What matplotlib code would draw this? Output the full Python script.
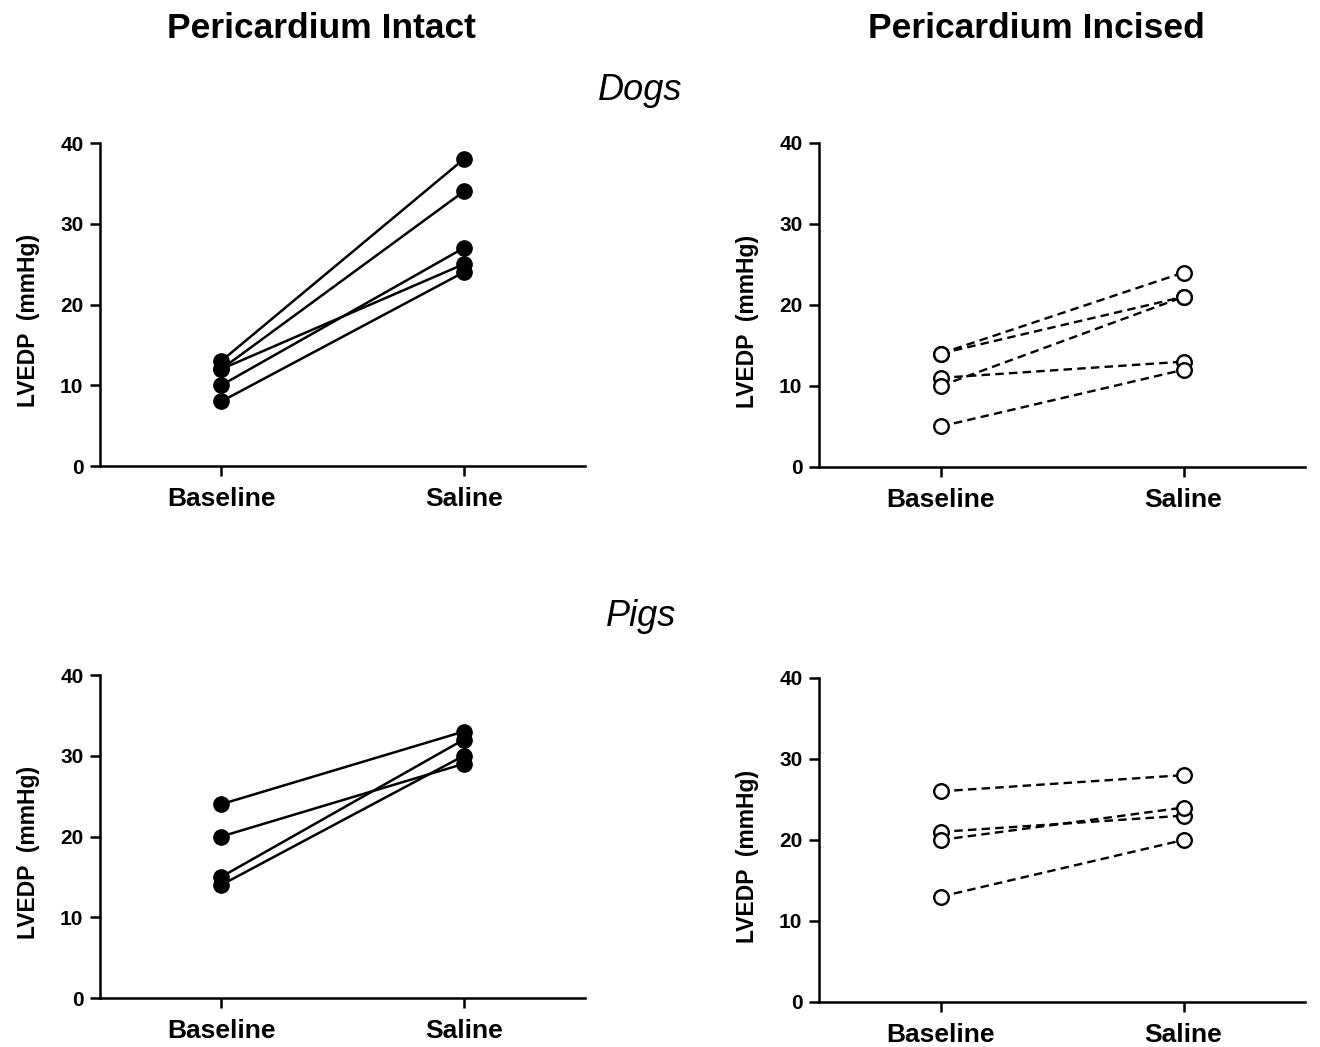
"""
LVEDP before and after saline, pericardium intact vs incised
"""

import matplotlib

matplotlib.use("Agg")
import matplotlib.pyplot as plt

plt.rcParams["font.family"] = ["Liberation Sans", "DejaVu Sans"]

conditions = ["Baseline", "Saline"]
y_ticks = [0, 10, 20, 30, 40]

# each pair is (baseline, saline) for one animal
dogs_intact_baseline = [13, 12, 12, 10, 8]
dogs_intact_saline = [38, 34, 25, 27, 24]
dogs_incised_baseline = [14, 14, 11, 10, 5]
dogs_incised_saline = [24, 21, 13, 21, 12]
pigs_intact_baseline = [24, 20, 15, 14]
pigs_intact_saline = [33, 29, 32, 30]
pigs_incised_baseline = [26, 21, 20, 13]
pigs_incised_saline = [28, 23, 24, 20]


def draw_panel(ax, baseline, saline, open_marker):
	"""
	Draws the paired lines for one panel
	"""
	for b, s in zip(baseline, saline):
		if open_marker:
			ax.plot([0, 1], [b, s], color="black", lw=1.7, ls=(0, (3.6, 2.2)),
				marker="o", ms=10.5, mfc="white", mec="black", mew=1.7)
		else:
			ax.plot([0, 1], [b, s], color="black", lw=1.8, marker="o",
				ms=11, mfc="black", mec="black")
	ax.set_xlim(-0.5, 1.5)
	ax.set_ylim(0, 40)
	ax.set_xticks([0, 1])
	ax.set_xticklabels(conditions, fontsize=19, fontweight="bold")
	ax.set_yticks(y_ticks)
	ax.set_yticklabels([str(t) for t in y_ticks], fontsize=15, fontweight="bold")
	ax.spines["top"].set_visible(False)
	ax.spines["right"].set_visible(False)
	ax.spines["left"].set_linewidth(1.8)
	ax.spines["bottom"].set_linewidth(1.8)
	ax.tick_params(axis="both", direction="out", length=7, width=1.8, pad=5)
	ax.tick_params(axis="x", pad=8)
	ax.set_ylabel("LVEDP  (mmHg)", fontsize=16.5, fontweight="bold")
	# label sits a bit below the axis middle in the original
	ax.yaxis.set_label_coords(-0.124, 0.45)
	for line in ax.lines:
		line.set_clip_on(False)


fig = plt.figure(figsize=(13.2, 10.47), dpi=100)

ax1 = fig.add_axes([0.0758, 0.5549, 0.3674, 0.3085])
ax2 = fig.add_axes([0.6205, 0.5540, 0.3682, 0.3095])
ax3 = fig.add_axes([0.0758, 0.0468, 0.3674, 0.3085])
ax4 = fig.add_axes([0.6205, 0.0430, 0.3682, 0.3095])

draw_panel(ax1, dogs_intact_baseline, dogs_intact_saline, False)
draw_panel(ax2, dogs_incised_baseline, dogs_incised_saline, True)
draw_panel(ax3, pigs_intact_baseline, pigs_intact_saline, False)
draw_panel(ax4, pigs_incised_baseline, pigs_incised_saline, True)

fig.text(321 / 1320, 1 - 29 / 1047, "Pericardium Intact", ha="center", va="center",
	fontsize=25.5, fontweight="bold")
fig.text(1036 / 1320, 1 - 29 / 1047, "Pericardium Incised", ha="center", va="center",
	fontsize=25.5, fontweight="bold")
fig.text(640 / 1320, 1 - 90 / 1047, "Dogs", ha="center", va="center",
	fontsize=26, style="italic")
fig.text(641 / 1320, 1 - 616 / 1047, "Pigs", ha="center", va="center",
	fontsize=26, style="italic")

fig.savefig("out.png", dpi=100)
